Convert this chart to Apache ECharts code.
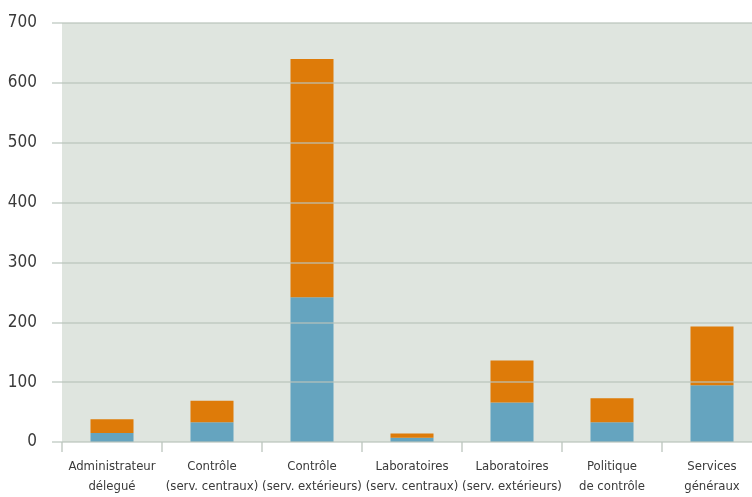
<!DOCTYPE html>
<html>
<head>
<meta charset="utf-8">
<script src="https://cdn.jsdelivr.net/npm/echarts@6/dist/echarts.min.js"></script>
<style>
  html, body { margin: 0; padding: 0; background: #ffffff; overflow: hidden; }
  /* the last category runs slightly past the right edge of the page */
  #chart { width: 762px; height: 497px; }
</style>
</head>
<body>
<div id="chart"></div>
<script>
// Services and their staff, split in two stacked groups
var categories = [
  'Administrateur\ndélegué',
  'Contrôle\n(serv. centraux)',
  'Contrôle\n(serv. extérieurs)',
  'Laboratoires\n(serv. centraux)',
  'Laboratoires\n(serv. extérieurs)',
  'Politique\nde contrôle',
  'Services\ngénéraux'
];
var blueValues = [15, 33, 242, 7, 66, 33, 95];
var orangeValues = [23, 36, 398, 7, 70, 40, 98];
var yTicks = [0, 100, 200, 300, 400, 500, 600, 700];

var fontFamily = '"DejaVu Sans Condensed", "Liberation Sans Narrow", sans-serif';
var gridColor = 'rgba(185,196,188,0.8)';

var chart = echarts.init(document.getElementById('chart'), null, { renderer: 'canvas' });
chart.setOption({
  animation: false,
  backgroundColor: '#ffffff',
  grid: {
    left: 62,
    right: 0,
    top: 23,
    bottom: 54,
    show: true,
    backgroundColor: '#dfe5df',
    borderWidth: 0
  },
  xAxis: {
    type: 'category',
    data: categories,
    boundaryGap: true,
    axisLine: { show: false },
    axisTick: {
      show: true,
      alignWithLabel: false,
      length: 10,
      lineStyle: { color: '#c5cdc6', width: 1.5 }
    },
    axisLabel: {
      interval: 0,
      margin: 15,
      color: '#3a3a3a',
      fontFamily: fontFamily,
      fontSize: 13,
      lineHeight: 20
    }
  },
  yAxis: {
    type: 'value',
    min: yTicks[0],
    max: yTicks[yTicks.length - 1],
    interval: yTicks[1] - yTicks[0],
    z: 5,
    axisLine: { show: false },
    axisTick: {
      show: true,
      length: 10,
      lineStyle: { color: gridColor, width: 1.5 }
    },
    splitLine: {
      show: true,
      lineStyle: { color: gridColor, width: 1.5 }
    },
    axisLabel: {
      margin: 25,
      color: '#3a3a3a',
      fontFamily: fontFamily,
      fontSize: 17
    }
  },
  series: [
    {
      name: 'bleu',
      type: 'bar',
      stack: 'total',
      barWidth: 43,
      data: blueValues,
      itemStyle: { color: '#65a4bf' }
    },
    {
      name: 'orange',
      type: 'bar',
      stack: 'total',
      barWidth: 43,
      data: orangeValues,
      itemStyle: { color: '#de7b09' }
    }
  ]
});
</script>
</body>
</html>
